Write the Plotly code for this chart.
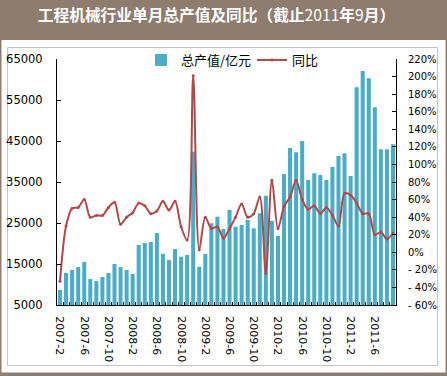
import plotly.graph_objects as go

months = [
    "2007-2","2007-3","2007-4","2007-5","2007-6","2007-7","2007-8","2007-9","2007-10","2007-11","2007-12",
    "2008-1","2008-2","2008-3","2008-4","2008-5","2008-6","2008-7","2008-8","2008-9","2008-10","2008-11","2008-12",
    "2009-1","2009-2","2009-3","2009-4","2009-5","2009-6","2009-7","2009-8","2009-9","2009-10","2009-11","2009-12",
    "2010-1","2010-2","2010-3","2010-4","2010-5","2010-6","2010-7","2010-8","2010-9","2010-10","2010-11","2010-12",
    "2011-1","2011-2","2011-3","2011-4","2011-5","2011-6","2011-7","2011-8","2011-9",
]
output_value = [
    8660, 12800, 13540, 14270, 15490, 11340, 10850, 11830, 12800, 15000, 14270,
    13540, 12560, 19630, 20120, 20370, 22560, 17440, 15980, 18660, 16780, 17200, 42400,
    14340, 17440, 24930, 26540, 23540, 28170, 24100, 24510, 25730, 23700, 27370, 31660,
    25490, 21830, 36950, 43300, 42240, 45000, 35490, 37120, 36710, 35490, 38660, 41340,
    42000, 36460, 58100, 62070, 60290, 53220, 42980, 42980, 44200,
]
yoy_pct = [
    -33, 30, 50, 51, 60, 40, 42, 42, 51, 57, 32,
    40, 45, 56, 53, 44, 47, 58, 48, 58, 29, 14, 201,
    3, 40, 27, 29, 16, 27, 40, 55, 40, 44, 63, -24,
    82, 27, 52, 63, 82, 60, 49, 53, 44, 51, 42, 30,
    67, 65, 56, 44, 44, 20, 23, 15, 22,
]
shown_labels = ["2007-2","2007-6","2007-10","2008-2","2008-6","2008-10","2009-2",
                "2009-6","2009-10","2010-2","2010-6","2010-10","2011-2","2011-6"]
left_ticks = [5000, 15000, 25000, 35000, 45000, 55000, 65000]
right_ticks = [-60, -40, -20, 0, 20, 40, 60, 80, 100, 120, 140, 160, 180, 200, 220]
right_text = [("- %d%%" % -v) if v < 0 else ("%d%%" % v) for v in right_ticks]

W, H = 447, 376
L, R, T, B = 57, 396, 59, 305

def px(x):
    return (x - L) / (R - L)

def py(y):
    return (B - y) / (B - T)

BROWN = "#8E7C6F"
FONT = "DejaVu Sans"
CJK = "Noto Sans CJK SC"

fig = go.Figure()
fig.add_trace(go.Bar(
    x=months, y=output_value, name="总产值/亿元",
    marker=dict(color="#4BACC6", line=dict(width=0)),
    yaxis="y",
))
fig.add_trace(go.Scatter(
    x=months, y=yoy_pct, name="同比", yaxis="y2",
    mode="lines+markers",
    line=dict(color="#B04A4A", width=2, shape="spline", smoothing=0.9),
    marker=dict(color="#B04A4A", size=3),
))

fig.update_layout(
    width=W, height=H,
    margin=dict(l=L, r=W - R, t=T, b=H - B, pad=0, autoexpand=False),
    paper_bgcolor=BROWN,
    plot_bgcolor="rgba(0,0,0,0)",
    bargap=0.33,
    showlegend=True,
    legend=dict(
        orientation="h", x=px(141), y=py(60), xanchor="left", yanchor="middle",
        font=dict(family=CJK, size=13, color="#000000"),
        bgcolor="rgba(0,0,0,0)", itemwidth=30, tracegroupgap=0,
        entrywidth=66,
    ),
    title=dict(
        text="<b>工程机械行业单月总产值及同比（截止</b>2011<b>年</b>9<b>月）</b>",
        x=216.5 / W, xanchor="center", y=1 - 16 / H, yanchor="middle",
        xref="container", yref="container", automargin=False,
        font=dict(family=CJK, size=15.7, color="#FFFFFF"),
    ),
    xaxis=dict(
        type="category", automargin=False,
        tickmode="array", tickvals=months,
        ticktext=[m if m in shown_labels else "" for m in months],
        tickangle=90, tickson="boundaries", ticks="inside", ticklen=3,
        tickcolor="#000000", tickwidth=1,
        showline=True, linecolor="#000000", linewidth=1,
        showgrid=False, zeroline=False,
        tickfont=dict(family=FONT, size=11, color="#000000"),
        ticklabelstandoff=8,
        range=[-0.5, len(months) - 0.5],
    ),
    yaxis=dict(
        automargin=False,
        range=[5000, 65000], tickmode="array", tickvals=left_ticks,
        ticktext=[str(v) for v in left_ticks],
        ticks="inside", ticklen=4, tickcolor="#000000",
        showline=True, linecolor="#000000", linewidth=1,
        showgrid=False, zeroline=False,
        tickfont=dict(family=FONT, size=11.5, color="#000000"),
        ticklabelstandoff=11,
    ),
    yaxis2=dict(
        automargin=False,
        range=[-60, 220], overlaying="y", side="right",
        tickmode="array", tickvals=right_ticks, ticktext=right_text,
        ticks="inside", ticklen=4, tickcolor="#000000",
        showline=True, linecolor="#000000", linewidth=1,
        showgrid=False, zeroline=False,
        tickfont=dict(family=FONT, size=10, color="#000000"),
        ticklabelstandoff=9,
    ),
    shapes=[
        dict(type="rect", xref="paper", yref="paper", layer="below",
             x0=px(1.5), x1=px(445.5), y0=py(40), y1=py(372.5),
             fillcolor="#FFFFFF", line=dict(width=0)),
        dict(type="rect", xref="paper", yref="paper", layer="below",
             x0=px(7.5), x1=px(437.5), y0=py(47.5), y1=py(365.5),
             fillcolor="rgba(0,0,0,0)", line=dict(color="#C4C4C4", width=1)),
    ],
)

fig.write_html(
    "out.html",
    config={"displayModeBar": False},
    post_script="document.body.style.margin='0';document.body.style.overflow='hidden';",
)
